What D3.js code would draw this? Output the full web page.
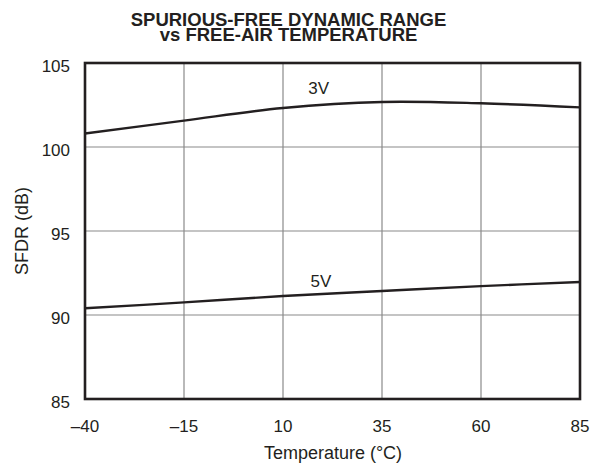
<!DOCTYPE html>
<html lang="en">
<head>
    <meta charset="UTF-8">
    <title>SFDR vs Free-Air Temperature</title>
    <script src="https://d3js.org/d3.v7.min.js"></script>
    <style>
        body { margin: 0; background: #fff; }
        svg { display: block; font-family: "Liberation Sans", Arial, Helvetica, sans-serif; }
        .grid line { stroke: #8a8a8a; stroke-width: 1.2; }
        .tick-label { font-size: 17px; fill: #231f20; }
        .axis-title { font-size: 18px; fill: #231f20; }
        .curve { fill: none; stroke: #231f20; stroke-width: 2.4; }
    </style>
</head>
<body>
    <svg width="597" height="466"></svg>
    <script>
        const temps = [-40, -15, 10, 35, 60, 85];
        const sfdr3V = [100.8, 101.57, 102.32, 102.68, 102.6, 102.36];
        const sfdr5V = [90.4, 90.75, 91.13, 91.43, 91.72, 91.96];
        const xTicks = [-40, -15, 10, 35, 60, 85];
        const yTicks = [85, 90, 95, 100, 105];
        const seriesLabels = [
            { text: "3V", t: 19, v: 103.15 },
            { text: "5V", t: 19.6, v: 91.68 }
        ];

        const margin = { top: 63, right: 17, bottom: 67, left: 85 };
        const width = 597, height = 466;
        const svg = d3.select("svg");

        const x = d3.scaleLinear().domain([-40, 85]).range([margin.left, width - margin.right]);
        const y = d3.scaleLinear().domain([85, 105]).range([height - margin.bottom, margin.top]);

        // grid
        const grid = svg.append("g").attr("class", "grid");
        grid.selectAll(".vx").data(xTicks.slice(1, -1)).enter().append("line")
            .attr("x1", d => x(d)).attr("x2", d => x(d))
            .attr("y1", y(85)).attr("y2", y(105));
        grid.selectAll(".hy").data(yTicks.slice(1, -1)).enter().append("line")
            .attr("x1", x(-40)).attr("x2", x(85))
            .attr("y1", d => y(d)).attr("y2", d => y(d));

        // curves
        const line = d3.line()
            .x((d, i) => x(temps[i]))
            .y(d => y(d))
            .curve(d3.curveCatmullRom.alpha(0.5));
        [sfdr3V, sfdr5V].forEach(s => {
            svg.append("path").attr("class", "curve").attr("d", line(s));
        });

        // frame
        svg.append("rect")
            .attr("x", x(-40)).attr("y", y(105))
            .attr("width", x(85) - x(-40)).attr("height", y(85) - y(105))
            .attr("fill", "none").attr("stroke", "#231f20").attr("stroke-width", 2.6);

        // tick labels
        svg.selectAll(".xl").data(xTicks).enter().append("text")
            .attr("class", "tick-label")
            .attr("x", d => x(d)).attr("y", 432)
            .attr("text-anchor", "middle")
            .text(d => d < 0 ? "\u2013" + Math.abs(d) : d);
        svg.selectAll(".yl").data(yTicks).enter().append("text")
            .attr("class", "tick-label")
            .attr("x", 70).attr("y", d => y(d) + 9)
            .attr("text-anchor", "end")
            .text(d => d);

        // series labels
        svg.selectAll(".sl").data(seriesLabels).enter().append("text")
            .attr("class", "tick-label")
            .attr("x", d => x(d.t)).attr("y", d => y(d.v))
            .attr("text-anchor", "middle")
            .text(d => d.text);

        // axis titles
        svg.append("text").attr("class", "axis-title")
            .attr("x", 333).attr("y", 459)
            .attr("text-anchor", "middle")
            .text("Temperature (\u00B0C)");
        svg.append("text").attr("class", "axis-title")
            .attr("transform", `translate(28,${(y(85) + y(105)) / 2}) rotate(-90)`)
            .attr("text-anchor", "middle")
            .text("SFDR (dB)");

        // title
        const title = svg.append("text")
            .attr("text-anchor", "middle")
            .attr("font-weight", "bold")
            .attr("font-size", "18.5px")
            .attr("fill", "#231f20");
        title.append("tspan").attr("x", 288.5).attr("y", 26).text("SPURIOUS-FREE DYNAMIC RANGE");
        title.append("tspan").attr("x", 288.5).attr("y", 40.5).text("vs FREE-AIR TEMPERATURE");
    </script>
</body>
</html>
